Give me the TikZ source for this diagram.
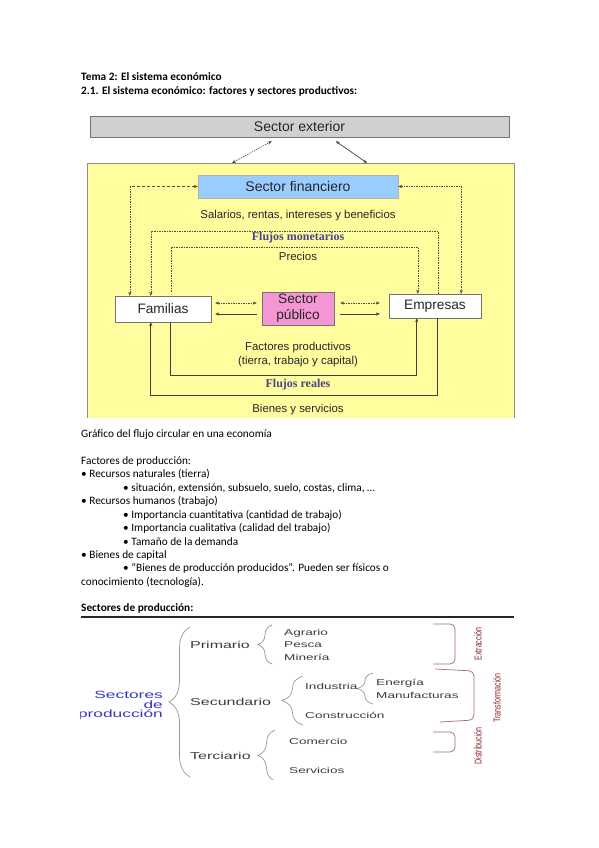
\documentclass[tikz,border=0pt]{standalone}
\usepackage{graphicx}
\usepackage{fontspec}
\setmainfont{Carlito}
\newfontfamily\arialf{Liberation Sans}
\newfontfamily\timesf{Liberation Serif}
\usetikzlibrary{arrows.meta,calc,decorations.pathreplacing}
\definecolor{extgray}{RGB}{208,208,208}
\definecolor{yel}{RGB}{255,253,158}
\definecolor{finblue}{RGB}{153,204,255}
\definecolor{pubpink}{RGB}{245,150,212}
\definecolor{flujoblue}{RGB}{70,70,140}
\definecolor{secblue}{RGB}{55,55,200}
\definecolor{maroon}{RGB}{140,35,45}
\definecolor{brmaroon}{RGB}{165,105,115}
\definecolor{bracegray}{RGB}{150,150,165}
\definecolor{sptext}{RGB}{60,60,60}
\begin{document}
\begin{tikzpicture}[x=1pt,y=-1pt,
  body/.style={anchor=base west,inner sep=0pt,font=\fontsize{11.3}{13}\selectfont},
  bodyb/.style={body,font=\bfseries\fontsize{11.3}{13}\selectfont},
  boxlbl/.style={draw=black!55,fill=white,font=\arialf\fontsize{13.7}{16}\selectfont,inner sep=0pt,text=black!85,align=center},
  lbl/.style={font=\arialf\fontsize{11.4}{13}\selectfont,inner sep=0pt,text=black!85},
  flujo/.style={font=\timesf\bfseries\fontsize{12}{14}\selectfont,text=flujoblue,inner sep=0pt},
  dd/.style={draw=black!70,line width=0.6pt,dash pattern=on 2pt off 1.2pt on 0.6pt off 1.2pt},
  sl/.style={draw=black!75,line width=0.7pt},
  tip/.style={-{Stealth[length=4pt,width=3.2pt]}},
  tips/.style={{Stealth[length=4pt,width=3.2pt]}-{Stealth[length=4pt,width=3.2pt]}},
  sp/.style={anchor=base west,inner sep=0pt,font=\arialf\fontsize{8.5}{10}\selectfont,text=sptext},
  spbig/.style={anchor=base west,inner sep=0pt,font=\arialf\fontsize{10}{12}\selectfont,text=sptext},
  secl/.style={anchor=base east,inner sep=0pt,font=\arialf\fontsize{10.5}{12}\selectfont,text=secblue},
  rot/.style={rotate=90,inner sep=0pt,font=\arialf\fontsize{10}{12}\selectfont,text=maroon},
  brc/.style={draw=bracegray,line width=0.7pt,decorate,decoration={brace,amplitude=#1}},
  brk/.style={draw=brmaroon,line width=0.7pt,rounded corners=5pt}
]
\useasboundingbox[fill=white] (0,0) rectangle (599,848);

% headings
\node[bodyb] (h1) at (81,81) {Tema 2: El sistema económico};
\node[bodyb] (h2) at (81,95) {2.1. El sistema económico: factores y sectores productivos:};

% ===== circular flow diagram =====
\node[draw=black!55,fill=extgray,minimum width=419pt,minimum height=21pt,inner sep=0pt,
      font=\arialf\fontsize{14}{16}\selectfont,text=black!85] (ext) at (299.5,126.5) {Sector exterior};
\fill[yel] (87,163) rectangle (514,418);
\draw[black!45,line width=0.7pt] (87,418) -- (87,163) -- (514,163) -- (514,418);
\coordinate (ynw) at (87,163);

\node[draw=black!30,fill=finblue,minimum width=200pt,minimum height=23pt,inner sep=0pt,
      font=\arialf\fontsize{14}{16}\selectfont,text=black!85] (fin) at (298,186.5) {Sector financiero};
\node[boxlbl,minimum width=96pt,minimum height=26pt] (fam) at (163,309) {Familias};
\node[boxlbl,fill=pubpink,minimum width=72pt,minimum height=33pt] (pub) at (298,308.5) {Sector\\público};
\node[boxlbl,minimum width=92pt,minimum height=24pt] (emp) at (435,306) {Empresas};

\node[lbl] (l1) at (298,216) {Salarios, rentas, intereses y beneficios};
\node[flujo] (fm) at (298,238) {Flujos monetarios};
\node[lbl] (l2) at (298,256) {Precios};
\node[lbl] (l3) at (298,348) {Factores productivos};
\node[lbl] (l4) at (298,362) {(tierra, trabajo y capital)};
\node[flujo] (fr) at (298,385) {Flujos reales};
\node[lbl] (l5) at (298,410) {Bienes y servicios};

% exterior connections
\draw[dd,dash pattern=on 1.5pt off 1pt,tips] ($(ynw)+(145,0)$) -- ($(ext.south west)+(182,4)$);
\draw[sl,tips] ($(ext.south west)+(246,4)$) -- ($(ynw)+(280,0)$);

% financial sector links
\draw[dd,tips] (fin.west) -| ([xshift=15pt]fam.north west);
\draw[dd,tips] (fin.east) -| ([xshift=-20pt]emp.north east);
% salaries line
\draw[dd,tip] ([xshift=49pt]emp.north west) |- ([xshift=36pt,yshift=65pt]fam.north west) -- ([xshift=36pt]fam.north west);
% prices line
\draw[dd,tip] ([xshift=56pt,yshift=4pt]fam.north west) |- ([xshift=29pt,yshift=47pt]emp.north west) -- ([xshift=29pt]emp.north west);

% public sector links
\draw[dd,tips] ($(fam.east)+(4,-6)$) -- ($(pub.west |- fam.east)+(-5,-6)$);
\draw[sl,tip] ($(pub.west |- fam.east)+(-5,5)$) -- ($(fam.east)+(4,5)$);
\draw[dd,tips] ($(pub.east |- emp.west)+(6,-3)$) -- ($(emp.west)+(-9,-3)$);
\draw[sl,tip] ($(pub.east |- emp.west)+(6,8)$) -- ($(emp.west)+(-9,8)$);

% real flows
\draw[sl,tip] ($(fam.south west)+(56,0)$) |- ($(emp.south west)+(28,57)$) -- ($(emp.south west)+(28,0)$);
\draw[sl,tip] ($(emp.south west)+(49,0)$) |- ($(fam.south west)+(36,73)$) -- ($(fam.south west)+(36,0)$);

% ===== text =====
\node[body] (c1) at (81,437) {Gráfico del flujo circular en una economía};
\node[body] (c2) at (81,464) {Factores de producción:};
\node[body] (c3) at (81,477.5) {• Recursos naturales (tierra)};
\node[body] (c4) at (123,491) {• situación, extensión, subsuelo, suelo, costas, clima, …};
\node[body] (c5) at (81,504.5) {• Recursos humanos (trabajo)};
\node[body] (c6) at (123,518) {• Importancia cuantitativa (cantidad de trabajo)};
\node[body] (c7) at (123,531.5) {• Importancia cualitativa (calidad del trabajo)};
\node[body] (c8) at (123,545) {• Tamaño de la demanda};
\node[body] (c9) at (81,558) {• Bienes de capital};
\node[body] (c10) at (123,571.5) {• “Bienes de producción producidos”. Pueden ser físicos o};
\node[body] (c11) at (81,585) {conocimiento (tecnología).};

\node[bodyb] (s0) at (81,611) {Sectores de producción:};
\draw[black!85,line width=1.6pt] (81,617) -- (514,617);

% ===== sectors diagram =====
\begin{scope}
\clip (80,619) rectangle (530,779);
\node[secl] (sa) at (163,698.5) {\scalebox{1.65}[1]{Sectores}};
\node[secl] (sb) at (163,708) {\scalebox{1.65}[1]{de}};
\node[secl] (sc) at (163,717.5) {\scalebox{1.65}[1]{producción}};
\draw[brc=21pt] (190,777) -- (190,627);

\node[spbig] (pri) at (190,648.5) {\scalebox{1.6}[1]{Primario}};
\node[spbig] (sec) at (190,705.5) {\scalebox{1.6}[1]{Secundario}};
\node[spbig] (ter) at (190,759.5) {\scalebox{1.6}[1]{Terciario}};

\draw[brc=14pt] (272,664) -- (272,625);
\draw[brc=21pt] (303,725) -- (303,676);
\draw[brc=16pt] (373,704) -- (373,673);
\draw[brc=17pt] (275,781) -- (275,730);

\node[sp] (agr) at (284,635) {\scalebox{1.6}[1]{Agrario}};
\node[sp] (pes) at (284,647.5) {\scalebox{1.6}[1]{Pesca}};
\node[sp] (min) at (284,660) {\scalebox{1.6}[1]{Minería}};
\node[sp] (ind) at (305,689) {\scalebox{1.6}[1]{Industria}};
\node[sp] (ene) at (376,685) {\scalebox{1.6}[1]{Energía}};
\node[sp] (man) at (376,698) {\scalebox{1.6}[1]{Manufacturas}};
\node[sp] (con) at (305,718) {\scalebox{1.6}[1]{Construcción}};
\node[sp] (com) at (289,744) {\scalebox{1.6}[1]{Comercio}};
\node[sp] (ser) at (289,773) {\scalebox{1.6}[1]{Servicios}};

\draw[brk] (433,624) -- (455,624) -- (455,664) -- (433,664);
\draw[brk] (435,669) -- (474,671) -- (474,720) -- (440,722);
\draw[brk] (433,732) -- (455,732) -- (455,752) -- (433,752);

\node[rot] (ex) at (478,644) {\scalebox{0.71}[1]{Extracción}};
\node[rot] (tr) at (497,698) {\scalebox{0.71}[1]{Transformación}};
\node[rot] (di) at (478,746) {\scalebox{0.71}[1]{Distribución}};
\end{scope}
\end{tikzpicture}
\end{document}
